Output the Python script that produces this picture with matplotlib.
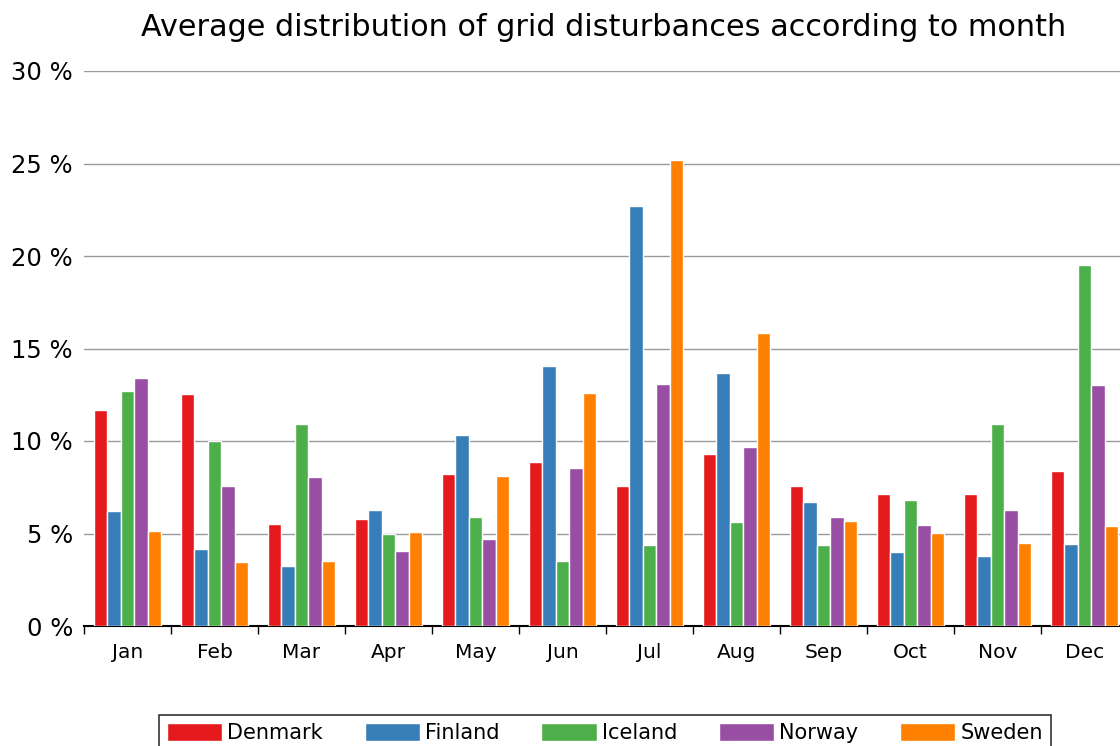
import numpy as np
import matplotlib
matplotlib.use("Agg")
import matplotlib.pyplot as plt

months = ["Jan", "Feb", "Mar", "Apr", "May", "Jun",
          "Jul", "Aug", "Sep", "Oct", "Nov", "Dec"]
countries = ["Denmark", "Finland", "Iceland", "Norway", "Sweden"]
colors = ["#e41a1c", "#377eb8", "#4daf4a", "#984ea3", "#ff7f00"]

denmark = [11.7, 12.54, 5.53, 5.8, 8.22, 8.86, 7.55, 9.3, 7.55, 7.12, 7.12, 8.38]
finland = [6.2, 4.16, 3.24, 6.29, 10.32, 14.05, 22.7, 13.66, 6.69, 4.0, 3.78, 4.43]
iceland = [12.69, 10.02, 10.94, 4.99, 5.87, 3.51, 4.38, 5.6, 4.38, 6.79, 10.94, 19.51]
norway = [13.39, 7.55, 8.04, 4.05, 4.7, 8.54, 13.06, 9.7, 5.87, 5.44, 6.25, 13.01]
sweden = [5.15, 3.46, 3.51, 5.1, 8.11, 12.58, 25.2, 15.86, 5.69, 5.03, 4.49, 5.42]
series = [denmark, finland, iceland, norway, sweden]

W, H = 1120, 746
fig = plt.figure(figsize=(W / 100, H / 100), dpi=100)
ax = fig.add_axes([84 / W, (H - 626) / H, 1044 / W, 555 / H])

x = np.arange(len(months))
bw = 0.156
for k, (name, vals, c) in enumerate(zip(countries, series, colors)):
    ax.bar(x + 0.5 + (k - 2) * bw, vals, width=bw, color=c,
           edgecolor="white", linewidth=1, label=name, zorder=3)

ax.set_xlim(0, 12)
ax.set_ylim(0, 30)
ax.set_yticks(range(0, 31, 5))
ax.set_yticklabels([f"{v} %" for v in range(0, 31, 5)], fontsize=17.5)
ax.yaxis.grid(True, color="#999999", linewidth=1, zorder=0)
ax.tick_params(axis="y", length=0, pad=8)

ax.set_xticks(np.arange(0, 13))
ax.set_xticklabels([])
ax.set_xticks(x + 0.5, minor=True)
ax.set_xticklabels(months, minor=True, fontsize=14.5)
ax.tick_params(axis="x", which="major", length=6, width=1, direction="out")
ax.tick_params(axis="x", which="minor", length=0, pad=12)

for side in ["top", "right", "left"]:
    ax.spines[side].set_visible(False)
ax.spines["bottom"].set_color("black")
ax.spines["bottom"].set_linewidth(1.5)

fig.text(604 / W, 1 - 28 / H, "Average distribution of grid disturbances according to month",
         ha="center", va="center", fontsize=21.8)

leg = fig.legend(loc="upper center", bbox_to_anchor=(605 / W, 31 / H), ncol=5,
                 fontsize=15, frameon=True, fancybox=False, edgecolor="black",
                 handlelength=2.65, handleheight=0.95, handletextpad=0.25,
                 columnspacing=2.0, borderpad=0.4, borderaxespad=0)
leg.get_frame().set_linewidth(1.2)

fig.savefig("out.png", dpi=100)
